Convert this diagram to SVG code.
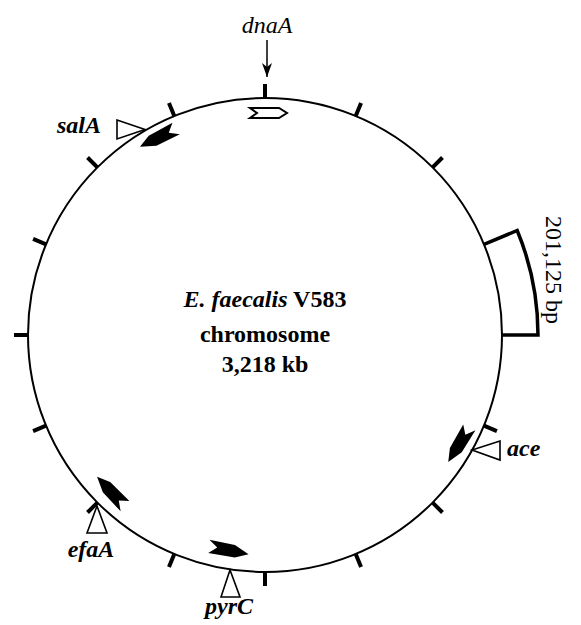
<svg xmlns="http://www.w3.org/2000/svg" width="581" height="625" viewBox="0 0 581 625">
  <style>
    .ring { fill: none; stroke: #000; stroke-width: 2; }
    .tick { stroke: #000; stroke-width: 4; }
    .span { fill: none; stroke: #000; stroke-width: 3.5; stroke-linejoin: miter; }
    .gene { fill: #000; stroke: none; }
    .gene-open { fill: #fff; stroke: #000; stroke-width: 2; }
    .site { fill: #fff; stroke: #000; stroke-width: 1.6; }
    .lbl { font-family: "Liberation Serif", "Times New Roman", serif; font-size: 24px; fill: #000; }
    .gname { font-style: italic; font-weight: bold; }
    .title { font-weight: bold; text-anchor: middle; }
  </style>
  <defs>
    <!-- notched gene arrow, centred on origin, pointing +x -->
    <path id="geneArrow" d="M-21,-7 L5,-6 L20,1 L7,6.5 L-20,6.5 L-12,-0.5 Z"/>
    <marker id="head" viewBox="0 0 14 10" refX="14" refY="5" markerWidth="14" markerHeight="10" markerUnits="userSpaceOnUse" orient="auto">
      <path d="M0,0 L14,5 L0,10 L4,5 Z" fill="#000"/>
    </marker>
  </defs>

  <!-- chromosome circle -->
  <g id="chromosome">
    <circle class="ring" cx="265" cy="335" r="237"/>
  </g>

  <!-- scale ticks every 22.5 degrees -->
  <g id="ticks">
    <line class="tick" x1="265" y1="98" x2="265" y2="84" transform="rotate(0 265 335)"/>
    <line class="tick" x1="265" y1="98" x2="265" y2="84" transform="rotate(22.5 265 335)"/>
    <line class="tick" x1="265" y1="98" x2="265" y2="84" transform="rotate(45 265 335)"/>
    <line class="tick" x1="265" y1="98" x2="265" y2="84" transform="rotate(112.5 265 335)"/>
    <line class="tick" x1="265" y1="98" x2="265" y2="84" transform="rotate(135 265 335)"/>
    <line class="tick" x1="265" y1="98" x2="265" y2="84" transform="rotate(157.5 265 335)"/>
    <line class="tick" x1="265" y1="98" x2="265" y2="84" transform="rotate(180 265 335)"/>
    <line class="tick" x1="265" y1="98" x2="265" y2="84" transform="rotate(202.5 265 335)"/>
    <line class="tick" x1="265" y1="98" x2="265" y2="84" transform="rotate(225 265 335)"/>
    <line class="tick" x1="265" y1="98" x2="265" y2="84" transform="rotate(247.5 265 335)"/>
    <line class="tick" x1="265" y1="98" x2="265" y2="84" transform="rotate(270 265 335)"/>
    <line class="tick" x1="265" y1="98" x2="265" y2="84" transform="rotate(292.5 265 335)"/>
    <line class="tick" x1="265" y1="98" x2="265" y2="84" transform="rotate(315 265 335)"/>
    <line class="tick" x1="265" y1="98" x2="265" y2="84" transform="rotate(337.5 265 335)"/>
  </g>

  <!-- 201,125 bp segment -->
  <g id="segment">
    <path class="span" d="M484,244.3 L517.2,230.5 A273,273 0 0 1 538,335 L502,335"/>
    <text class="lbl" font-size="25" transform="translate(546,216) rotate(90)">201,125 bp</text>
  </g>

  <!-- centre caption -->
  <g id="caption">
    <text class="lbl title" x="265" y="307"><tspan font-style="italic">E. faecalis</tspan> V583</text>
    <text class="lbl title" x="265" y="342">chromosome</text>
    <text class="lbl title" x="265" y="372">3,218 kb</text>
  </g>

  <!-- dnaA origin -->
  <g id="dnaA">
    <text class="lbl" x="267" y="33" text-anchor="middle" font-style="italic">dnaA</text>
    <path class="gene-open" d="M250,108 L279,108 L287,113 L279,118 L250,118 L257,113 Z"/>
  </g>

  <g id="salA">
    <use href="#geneArrow" class="gene" transform="translate(158,138) rotate(151.5)"/>
    <path class="site" d="M117,120 L145,129.5 L117,139 Z"/>
    <text class="lbl gname" x="101" y="133" text-anchor="end">salA</text>
  </g>

  <g id="ace">
    <use href="#geneArrow" class="gene" transform="translate(459,445) rotate(119.6)"/>
    <path class="site" d="M500,441 L472,450 L500,460 Z"/>
    <text class="lbl gname" x="507" y="456">ace</text>
  </g>

  <g id="efaA">
    <use href="#geneArrow" class="gene" transform="translate(110.6,491.6) rotate(224.6)"/>
    <path class="site" d="M87,533 L97,506 L107,533 Z"/>
    <text class="lbl gname" x="91" y="557" text-anchor="middle">efaA</text>
  </g>

  <g id="pyrC">
    <use href="#geneArrow" class="gene" transform="translate(229,550) rotate(9.5)"/>
    <path class="site" d="M221,597 L230,570 L240,597 Z"/>
    <text class="lbl gname" x="229" y="614" text-anchor="middle">pyrC</text>
  </g>

  <!-- pointer to dnaA -->
  <g id="connectors">
    <line x1="267" y1="40" x2="267" y2="77" stroke="#000" stroke-width="1.5" marker-end="url(#head)"/>
  </g>
</svg>
